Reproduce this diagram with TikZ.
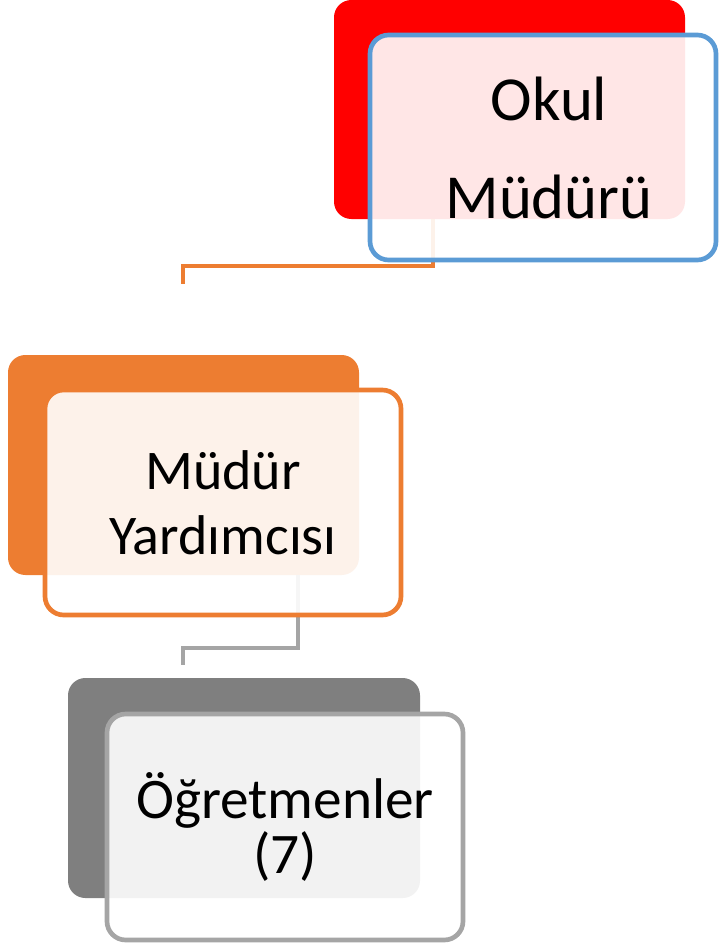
\documentclass[tikz,border=0pt]{standalone}
\usepackage{fontspec}
\setmainfont{Carlito}
\definecolor{rcol}{RGB}{255,0,0}
\definecolor{bcol}{RGB}{91,155,213}
\definecolor{ocol}{RGB}{237,125,49}
\definecolor{dgcol}{RGB}{127,127,127}
\definecolor{gcol}{RGB}{165,165,165}
\tikzset{every picture/.style={x=0.75pt,y=-0.75pt}}
\tikzset{boxsize/.style 2 args={minimum width=#1*0.75pt,minimum height=#2*0.75pt}}
\tikzset{backbox/.style={rectangle,rounded corners=13pt,inner sep=0pt}}
\tikzset{frontbox/.style={rectangle,rounded corners=14pt,inner sep=0pt,line width=3.5pt,
  fill=white,fill opacity=0.9,text opacity=1,draw,align=center}}
\tikzset{conn/.style={line width=3.5pt}}

\begin{document}
\begin{tikzpicture}
\useasboundingbox (0,0) rectangle (720,946);

\node [backbox,fill=rcol,boxsize={351}{219}] (okulback) at (509.5,109.5) {};
\node [backbox,fill=ocol,boxsize={351}{220}] (yardback) at (183.5,465) {};
\node [backbox,fill=dgcol,boxsize={352}{220}] (ogrback) at (244,788) {};

\coordinate (j1) at (433,266);
\coordinate (e1) at (183,284);
\coordinate (j2) at (298,648);
\coordinate (e2) at (183,665);

\draw [ocol,conn] (okulback.south -| j1) -- (j1) -| (e1);
\draw [gcol,conn] (yardback.south -| j2) -- (j2) -| (e2);

\node [frontbox,draw=bcol,boxsize={346}{225},font=\fontsize{47}{73.5}\selectfont] (okul) at (543,147.5) {\hspace*{9pt}Okul\\\hspace*{9pt}Müdürü};
\node [frontbox,draw=ocol,boxsize={356}{225},font=\fontsize{42}{48.75}\selectfont] (yard) at (223,502.5) {Müdür\\Yardımcısı};
\node [frontbox,draw=gcol,boxsize={356}{226},font=\fontsize{43}{41.5}\selectfont] (ogr) at (285,827) {Öğretmenler\\(7)};
\end{tikzpicture}
\end{document}
